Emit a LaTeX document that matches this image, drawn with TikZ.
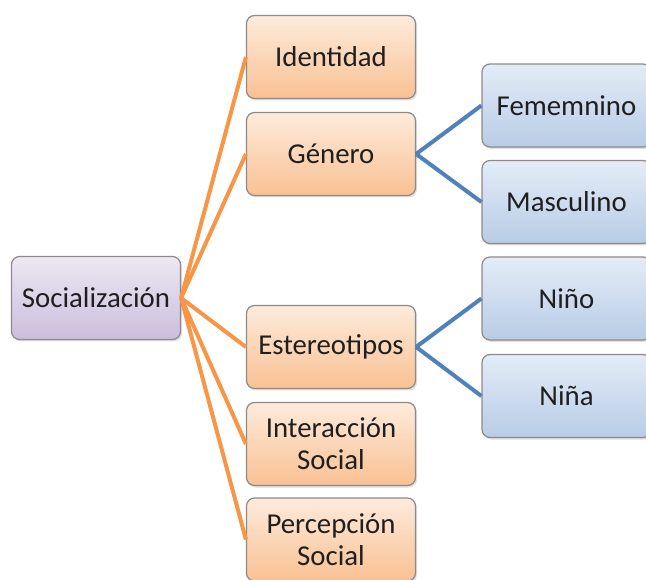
\documentclass[tikz,border=0pt]{standalone}
\usepackage{fontspec}
\setmainfont{Carlito}
\usetikzlibrary{shadows}
\definecolor{naranja}{HTML}{F79646}
\definecolor{azul}{HTML}{4F81BD}
\definecolor{naranjaA}{HTML}{FDEBDC}
\definecolor{naranjaB}{HTML}{F9C193}
\definecolor{moradoA}{HTML}{EDE8F3}
\definecolor{moradoB}{HTML}{CBBEDC}
\definecolor{azulA}{HTML}{E3ECF7}
\definecolor{azulB}{HTML}{B8CCE6}
\definecolor{borde}{HTML}{8E8A86}
\begin{document}
\begin{tikzpicture}[x=1pt,y=-1pt,
    caja/.style={rounded corners=8pt, draw=borde, line width=1.2pt,
        minimum width=169pt, minimum height=83pt, align=center,
        text=black!88, font=\fontsize{28.8}{32}\selectfont,
        drop shadow={opacity=0.25, shadow xshift=1.5pt, shadow yshift=-2pt}},
    raiz/.style={caja, top color=moradoA, bottom color=moradoB},
    rama/.style={caja, top color=naranjaA, bottom color=naranjaB},
    hoja/.style={caja, top color=azulA, bottom color=azulB},
    lineaN/.style={naranja, line width=4pt},
    lineaA/.style={azul, line width=4pt}]
    \useasboundingbox (0,0) rectangle (646,580);
    % the root
    \node[raiz] (soc) at (96,298) {Socialización};
    % the second level
    \node[rama] (ide) at (331,57) {Identidad};
    \node[rama] (gen) at (331,154) {Género};
    \node[rama] (est) at (331,347) {Estereotipos};
    \node[rama] (int) at (331,444) {Interacción\\Social};
    \node[rama] (per) at (331,539.5) {Percepción\\Social};
    % the third level
    \node[hoja] (fem) at (566.5,105.5) {Fememnino};
    \node[hoja] (mas) at (566.5,202) {Masculino};
    \node[hoja] (nio) at (566.5,298.5) {Niño};
    \node[hoja] (nia) at (566.5,396) {Niña};
    % draw the connectors
    \foreach \b in {ide,gen,est,int,per}
        \draw[lineaN] (soc.east) -- (\b.west);
    \draw[lineaA] (gen.east) -- (fem.west);
    \draw[lineaA] (gen.east) -- (mas.west);
    \draw[lineaA] (est.east) -- (nio.west);
    \draw[lineaA] (est.east) -- (nia.west);
\end{tikzpicture}
\end{document}
